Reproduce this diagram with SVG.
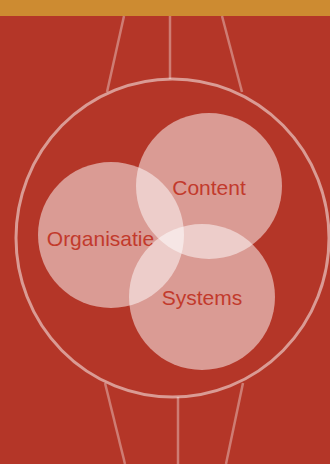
<svg xmlns="http://www.w3.org/2000/svg" width="330" height="464" viewBox="0 0 330 464">
<style>
.bg{fill:#b43628}
.bar{fill:#cd8b31}
.ln{stroke:#ffffff;stroke-opacity:0.35;stroke-width:2.5;fill:none}
.ring{stroke:#ffffff;stroke-opacity:0.5;stroke-width:3;fill:none}
.c{fill:#ffffff;fill-opacity:0.5}
.t{font-family:"Liberation Sans",Arial,sans-serif;font-size:21px;fill:#c23a2c;text-anchor:middle}
</style>
<rect class="bg" x="0" y="0" width="330" height="464"/>
<rect class="bar" x="0" y="0" width="330" height="16"/>
<g id="connectors">
<line class="ln" x1="124" y1="16" x2="107" y2="92"/>
<line class="ln" x1="170" y1="16" x2="170" y2="79"/>
<line class="ln" x1="222" y1="16" x2="242" y2="92"/>
<line class="ln" x1="105" y1="383" x2="125" y2="464"/>
<line class="ln" x1="178" y1="397" x2="178" y2="464"/>
<line class="ln" x1="243" y1="383" x2="226" y2="464"/>
</g>
<g id="ring"><ellipse class="ring" cx="172.5" cy="238" rx="156.5" ry="159"/></g>
<g id="content"><circle class="c" cx="209" cy="186" r="73"/><text class="t" x="209" y="195">Content</text></g>
<g id="organisatie"><circle class="c" cx="111" cy="235" r="73"/><text class="t" x="100.5" y="246">Organisatie</text></g>
<g id="systems"><circle class="c" cx="202" cy="297" r="73"/><text class="t" x="202" y="305">Systems</text></g>
</svg>
